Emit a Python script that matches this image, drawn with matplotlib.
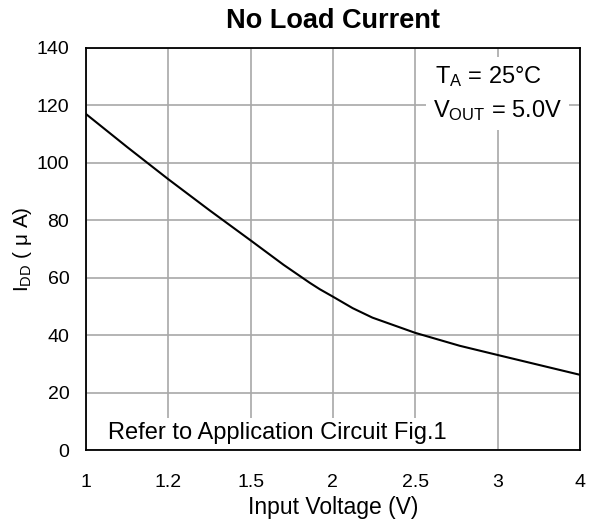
import matplotlib
matplotlib.use('Agg')
import matplotlib.pyplot as plt

plt.rcParams['font.family'] = 'Liberation Sans'
plt.rcParams['mathtext.fontset'] = 'custom'
plt.rcParams['mathtext.rm'] = 'Liberation Sans'
plt.rcParams['mathtext.it'] = 'Liberation Sans'

# input voltage (axis units) and no load current (uA)
vin = [1.0, 1.25, 1.5, 1.75, 2.0, 2.2, 2.36, 2.42, 2.5, 2.62, 2.74, 3.0, 3.27, 3.5, 4.0]
idd = [117, 105.5, 94.3, 83.5, 73, 64.5, 58.2, 56.0, 53.4, 49.4, 46.1, 40.8, 36.3, 33.1, 26.2]

xticks = [1, 1.5, 2, 2.5, 3, 3.5, 4]
xlabels = ['1', '1.2', '1.5', '2', '2.5', '3', '4']
yticks = [0, 20, 40, 60, 80, 100, 120, 140]

fig = plt.figure(figsize=(5.99, 5.2), dpi=100)
ax = fig.add_axes([0.1436, 0.1346, 0.8244, 0.7731])

ax.plot(vin, idd, color='black', lw=1.5, zorder=3)

ax.set_xlim(1, 4)
ax.set_ylim(0, 140)
ax.set_xticks(xticks)
ax.set_xticklabels(xlabels)
ax.set_yticks(yticks)
ax.tick_params(length=0, labelsize=14)
ax.tick_params(axis='x', pad=17)
ax.tick_params(axis='y', pad=12)
ax.grid(True, color='#a8a8a8', lw=1.2)
ax.set_axisbelow(True)
for s in ax.spines.values():
    s.set_linewidth(1.3)

ax.set_title('No Load Current', fontsize=19.5, fontweight='bold', pad=14.5)
ax.set_xlabel('Input Voltage (V)', fontsize=16.5, labelpad=4)
ax.set_ylabel(r'I$_{\mathrm{DD}}$ ( μ A)', fontsize=15, labelpad=2)

box = dict(facecolor='white', edgecolor='none', pad=5)
ax.text(0.7065, 127.8, 'T$_{\\mathrm{A}}$ = 25°C', transform=ax.get_yaxis_transform(),
        fontsize=17, va='baseline', ha='left', zorder=4, bbox=box)
ax.text(0.7024, 116.0, 'V$_{\\mathrm{OUT}}$ = 5.0V', transform=ax.get_yaxis_transform(),
        fontsize=17, va='baseline', ha='left', zorder=4, bbox=box)
ax.text(0.0445, 3.7, 'Refer to Application Circuit Fig.1', transform=ax.get_yaxis_transform(),
        fontsize=17, va='baseline', ha='left', zorder=4,
        bbox=dict(facecolor='white', edgecolor='none', pad=3))

fig.savefig('out.png', dpi=100)
